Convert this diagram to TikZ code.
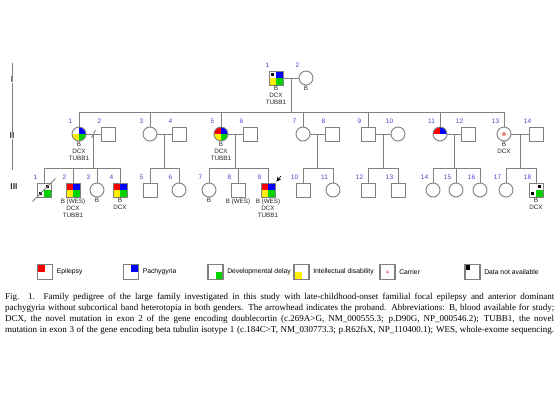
\documentclass[tikz,border=0pt]{standalone}
\usepackage{fontspec}
\setmainfont{Liberation Serif}
\setsansfont{Liberation Sans}
\usepackage{tikz}
\usetikzlibrary{positioning,calc,arrows.meta}
\definecolor{pedgray}{RGB}{128,128,128}
\definecolor{numblue}{RGB}{70,70,200}
\definecolor{epired}{RGB}{255,0,0}
\definecolor{pachblue}{RGB}{0,0,255}
\definecolor{devgreen}{RGB}{0,210,0}
\definecolor{intyellow}{RGB}{255,240,0}
\definecolor{carrierpink}{RGB}{240,128,128}
\tikzset{
    ind/.style={draw=pedgray, line width=0.9pt, minimum size=14pt, inner sep=0pt},
    male/.style={ind, rectangle},
    female/.style={ind, circle},
    quads/.style n args={4}{path picture={
        \fill[#1] (path picture bounding box.north west) rectangle (path picture bounding box.center);
        \fill[#2] (path picture bounding box.north east) rectangle (path picture bounding box.center);
        \fill[#3] (path picture bounding box.south west) rectangle (path picture bounding box.center);
        \fill[#4] (path picture bounding box.south east) rectangle (path picture bounding box.center);
    }},
    num/.style={font=\sffamily\fontsize{6.5}{7}\selectfont, text=numblue, xshift=-8.5pt, yshift=1.5pt, inner sep=1pt},
    info/.style={font=\sffamily\fontsize{6.3}{7}\selectfont, text=black!85, align=center, inner sep=1pt},
    pline/.style={draw=pedgray, line width=0.9pt},
    gen/.style={font=\sffamily\bfseries\fontsize{8.5}{9}\selectfont, text=black!80, fill=white, inner sep=0.5pt},
    legbox/.style={rectangle, draw=pedgray, line width=1.1pt, minimum size=15pt, inner sep=0pt},
    legtext/.style={font=\sffamily\fontsize{6.8}{8}\selectfont, inner sep=0pt},
    proband/.style={-{Stealth[length=5pt,width=4.5pt]}, black, line width=0.6pt},
    caption/.style={font=\fontsize{9}{11}\selectfont, text width=549pt, align=justify, inner sep=0pt},
}
\newcommand{\nodata}[2]{\fill[black] ($(#1.center)+(#2)$) rectangle ++(3.5,3.5);}

\begin{document}
\begin{tikzpicture}[x=1pt, y=-1pt]
    \fill[white] (0,0) rectangle (560,400);
    \useasboundingbox (0,0) rectangle (560,400);
    % Generation axis
    \draw[pline] (12,63) -- (12,170);
    \node[gen] (gI) at (12,80) {I};
    \node[gen] (gII) at (12,136) {II};
    \node[gen] (gIII) at (14,187) {III};
    \coordinate (sII) at (0,112);
    \coordinate (sIII) at (0,168);

    % Generation I
    \node[male, quads={white}{pachblue}{intyellow}{devgreen}, label={[num]above:1}, label={[info]below:B\\DCX\\TUBB1}] (I1) at (276,78) {};
    \node[female, label={[num]above:2}, label={[info]below:B}] (I2) at (306,78) {};
    \nodata{I1}{-5.25,-5.25}

    % Generation II
    \node[female, quads={white}{pachblue}{intyellow}{devgreen}, label={[num]above:1}, label={[info]below:B\\DCX\\TUBB1}] (II1) at (79,134) {};
    \node[male, label={[num]above:2}] (II2) at (108,134) {};
    \node[female, label={[num]above:3}] (II3) at (150,134) {};
    \node[male, label={[num]above:4}] (II4) at (179,134) {};
    \node[female, quads={epired}{pachblue}{intyellow}{devgreen}, label={[num]above:5}, label={[info]below:B\\DCX\\TUBB1}] (II5) at (221,134) {};
    \node[male, label={[num]above:6}] (II6) at (250,134) {};
    \node[female, label={[num]above:7}] (II7) at (303,134) {};
    \node[male, label={[num]above:8}] (II8) at (332,134) {};
    \node[male, label={[num]above:9}] (II9) at (368,134) {};
    \node[female, label={[num]above:10}] (II10) at (398,134) {};
    \node[female, quads={epired}{pachblue}{white}{white}, label={[num]above:11}] (II11) at (440,134) {};
    \node[male, label={[num]above:12}] (II12) at (468,134) {};
    \node[female, label={[num]above:13}, label={[info]below:B\\DCX}] (II13) at (504,134) {};
    \node[male, label={[num]above:14}] (II14) at (536,134) {};
    \fill[carrierpink] (II13) circle (2pt);

    % Generation III
    \node[male, quads={white}{white}{white}{devgreen}, label={[num]above:1}] (III1) at (44,190) {};
    \node[male, quads={epired}{pachblue}{intyellow}{devgreen}, label={[num]above:2}, label={[info]below:B (WES)\\DCX\\TUBB1}] (III2) at (73,190) {};
    \node[female, label={[num]above:3}, label={[info]below:B}] (III3) at (97,190) {};
    \node[male, quads={epired}{pachblue}{intyellow}{devgreen}, label={[num]above:4}, label={[info]below:B\\DCX}] (III4) at (120,190) {};
    \node[male, label={[num]above:5}] (III5) at (150,190) {};
    \node[female, label={[num]above:6}] (III6) at (179,190) {};
    \node[female, label={[num]above:7}, label={[info]below:B}] (III7) at (209,190) {};
    \node[male, label={[num]above:8}, label={[info]below:B (WES)}] (III8) at (238,190) {};
    \node[male, quads={epired}{pachblue}{intyellow}{devgreen}, label={[num]above:9}, label={[info]below:B (WES)\\DCX\\TUBB1}] (III9) at (268,190) {};
    \node[male, label={[num]above:10}] (III10) at (303,190) {};
    \node[female, label={[num]above:11}] (III11) at (333,190) {};
    \node[male, label={[num]above:12}] (III12) at (368,190) {};
    \node[male, label={[num]above:13}] (III13) at (398,190) {};
    \node[female, label={[num]above:14}] (III14) at (433,190) {};
    \node[female, label={[num]above:15}] (III15) at (456,190) {};
    \node[female, label={[num]above:16}] (III16) at (480,190) {};
    \node[female, label={[num]above:17}] (III17) at (506,190) {};
    \node[male, quads={white}{white}{white}{devgreen}, label={[num]above:18}, label={[info]below:B\\DCX}] (III18) at (536,190) {};
    \nodata{III1}{1.75,-5.25}
    \nodata{III1}{-5.25,1.75}
    \nodata{III18}{1.75,-5.25}
    \nodata{III18}{-5.25,1.75}
    \draw[pline] ($(III1.south west)+(-4,4)$) -- ($(III1.north east)+(4,-4)$);

    % Lines: generation I to II
    \draw[pline] (I1) -- (I2);
    \coordinate (d0) at ($(I1)!.5!(I2)$);
    \draw[pline] (d0) -- (d0 |- sII);
    \draw[pline] (II1.north |- sII) -- (II13.north |- sII);
    \foreach \c in {II1,II3,II5,II7,II9,II11,II13}
        \draw[pline] (\c.north) -- (\c.north |- sII);

    % Lines: generation II to III
    \foreach \a/\b/\f/\l [count=\i] in {II1/II2/III1/III4, II3/II4/III5/III6, II5/II6/III7/III9, II7/II8/III10/III11, II9/II10/III12/III13, II11/II12/III14/III16, II13/II14/III17/III18} {
        \draw[pline] (\a) -- (\b);
        \coordinate (d\i) at ($(\a)!.5!(\b)$);
        \draw[pline] (d\i) -- (d\i |- sIII);
        \draw[pline] (\f.north |- sIII) -- (\l.north |- sIII);
    }
    \foreach \c in {III1,III2,III3,III4,III5,III6,III7,III8,III9,III10,III11,III12,III13,III14,III15,III16,III17,III18}
        \draw[pline] (\c.north) -- (\c.north |- sIII);
    \draw[pline, line width=0.7pt] ($(d1)+(-2,4)$) -- ($(d1)+(2,-4)$);

    % Proband
    \coordinate (pb) at (281,176);
    \draw[proband] (pb) -- ($(III9.north east)+(1,-1)$);

    % Legend
    \node[legbox, quads={epired}{white}{white}{white}] (lepi) at (45,272) {};
    \node[legtext, right=3.5pt of lepi] (tepi) {Epilepsy};
    \node[legbox, quads={white}{pachblue}{white}{white}] (lpach) at (131,272) {};
    \node[legtext, right=3.5pt of lpach] (tpach) {Pachygyria};
    \node[legbox, quads={white}{white}{white}{devgreen}] (ldev) at (215.5,272) {};
    \node[legtext, right=3.5pt of ldev] (tdev) {Developmental delay};
    \node[legbox, quads={white}{white}{intyellow}{white}] (lint) at (301.5,272) {};
    \node[legtext, right=3.5pt of lint] (tint) {Intellectual disability};
    \node[legbox] (lcar) at (387.5,272) {};
    \fill[carrierpink] (lcar) circle (1.5pt);
    \node[legtext, right=3.5pt of lcar] (tcar) {Carrier};
    \node[legbox] (lnd) at (472.5,272) {};
    \fill[black] ($(lnd.north west)+(1.5,1.5)$) rectangle ++(4.5,4.5);
    \node[legtext, right=3.5pt of lnd] (tnd) {Data not available};

    % Caption
    \node[caption, anchor=north west] (cap) at (5,292.5) {%
        Fig. 1. Family pedigree of the large family investigated in this study with late-childhood-onset familial focal epilepsy and anterior dominant\linebreak
        pachygyria without subcortical band heterotopia in both genders. The arrowhead indicates the proband. Abbreviations: B, blood available for study;\linebreak
        DCX, the novel mutation in exon 2 of the gene encoding doublecortin (c.269A>G, NM\_000555.3; p.D90G, NP\_000546.2); TUBB1, the novel\linebreak
        mutation in exon 3 of the gene encoding beta tubulin isotype 1 (c.184C>T, NM\_030773.3; p.R62fsX, NP\_110400.1); WES, whole-exome sequencing.{\parfillskip=0pt\par}};
\end{tikzpicture}
\end{document}
